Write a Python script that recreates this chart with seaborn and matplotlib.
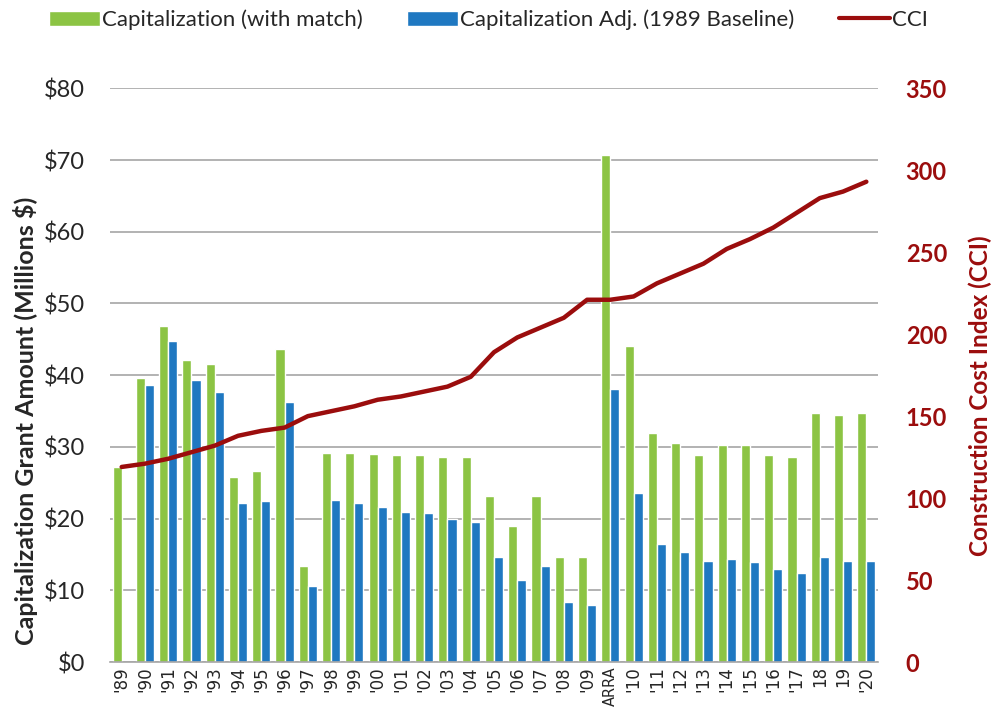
import numpy as np
import pandas as pd
import matplotlib
matplotlib.use("Agg")
import matplotlib.pyplot as plt
import seaborn as sns
from matplotlib.patches import Patch
from matplotlib.lines import Line2D

years = ["'89", "'90", "'91", "'92", "'93", "'94", "'95", "'96", "'97", "'98",
         "'99", "'00", "'01", "'02", "'03", "'04", "'05", "'06", "'07", "'08",
         "'09", "ARRA", "'10", "'11", "'12", "'13", "'14", "'15", "'16", "'17",
         "18", "19", "'20"]
cap_match = [27.2, 39.6, 46.9, 42.1, 41.6, 25.8, 26.6, 43.7, 13.4, 29.2,
             29.2, 29.0, 28.8, 28.9, 28.6, 28.6, 23.2, 18.9, 23.1, 14.7,
             14.7, 70.7, 44.1, 31.9, 30.6, 28.9, 30.3, 30.3, 28.9, 28.6,
             34.7, 34.5, 34.7]
cap_adj = [np.nan, 38.6, 44.8, 39.3, 37.6, 22.2, 22.4, 36.3, 10.6, 22.6,
           22.2, 21.6, 20.9, 20.8, 20.0, 19.5, 14.6, 11.4, 13.4, 8.4,
           7.9, 38.0, 23.5, 16.5, 15.3, 14.1, 14.3, 14.0, 13.0, 12.4,
           14.6, 14.1, 14.1]
cci = [119, 121, 124, 128, 132, 138, 141, 143, 150, 153,
       156, 160, 162, 165, 168, 174, 189, 198, 204, 210,
       221, 221, 223, 231, 237, 243, 252, 258, 265, 274,
       283, 287, 293]

lbl_match = "Capitalization (with match)"
lbl_adj = "Capitalization Adj. (1989 Baseline)"
green = "#8cc444"
blue = "#1f78c1"
red = "#9b0d0d"

bars = pd.DataFrame({
    "year": years * 2,
    "amount": cap_match + cap_adj,
    "series": [lbl_match] * len(years) + [lbl_adj] * len(years),
})
line_df = pd.DataFrame({"year": years, "cci": cci})

sns.set_style("white")
plt.rcParams["font.family"] = ["Lato", "DejaVu Sans"]

fig = plt.figure(figsize=(10.05, 7.12), dpi=100)
ax = fig.add_axes([0.1095, 0.0702, 0.7641, 0.8058])

sns.barplot(data=bars, x="year", y="amount", hue="series", order=years,
            hue_order=[lbl_match, lbl_adj], palette=[green, blue],
            width=0.78, gap=0, saturation=1, ax=ax, legend=False)

n = len(years)
ax.set_xlim(-0.5, n - 0.5)
ax.set_ylim(0, 80)
ax.set_yticks(range(0, 81, 10))
ax.set_yticklabels([f"${v}" for v in range(0, 81, 10)], fontsize=17)
ax.yaxis.grid(True, color="#a6a6a6", linewidth=1.2)
ax.set_axisbelow(True)
for s in ["top", "left", "right"]:
    ax.spines[s].set_visible(False)
ax.spines["bottom"].set_color("#a6a6a6")
ax.spines["bottom"].set_linewidth(1.2)
ax.set_xticks(np.arange(n))
ax.set_xticklabels(years, rotation=90, fontsize=12, family="DejaVu Sans")
for t in ax.get_xticklabels():
    if t.get_text() == "ARRA":
        t.set_fontsize(10.5)
ax.set_xticks(np.arange(-0.5, n, 1), minor=True)
ax.tick_params(axis="x", which="major", length=0, pad=3)
ax.tick_params(axis="x", which="minor", length=6, color="#a6a6a6", width=1.2)
ax.tick_params(axis="y", length=0, pad=18)
ax.set_xlabel("")
ax.set_ylabel("Capitalization Grant Amount (Millions $)", fontsize=18,
              fontweight="bold")
ax.yaxis.set_label_coords(-0.094, 0.42)

ax2 = ax.twinx()
sns.lineplot(data=line_df, x="year", y="cci", sort=False, color=red,
             linewidth=3.2, ax=ax2)
ax2.set_ylim(0, 350)
ax2.set_yticks(range(0, 351, 50))
ax2.set_yticklabels([str(v) for v in range(0, 351, 50)], fontsize=17,
                    fontweight="bold", color=red)
ax2.tick_params(axis="y", length=0, pad=20)
for s in ["top", "left", "right", "bottom"]:
    ax2.spines[s].set_visible(False)
ax2.set_ylabel("Construction Cost Index (CCI)", fontsize=17.5,
               fontweight="bold", color=red)
ax2.yaxis.set_label_coords(1.118, 0.465)
ax2.set_xlim(-0.5, n - 0.5)

handles = [Patch(facecolor=green, label=lbl_match),
           Patch(facecolor=blue, label=lbl_adj),
           Line2D([0], [0], color=red, linewidth=3, label="CCI")]
fig.legend(handles=handles, loc="center", bbox_to_anchor=(0.486, 0.972),
           ncol=3, frameon=False, fontsize=16, handlelength=2.3,
           handletextpad=0.1, columnspacing=2.0)

fig.savefig("out.png", dpi=100)
